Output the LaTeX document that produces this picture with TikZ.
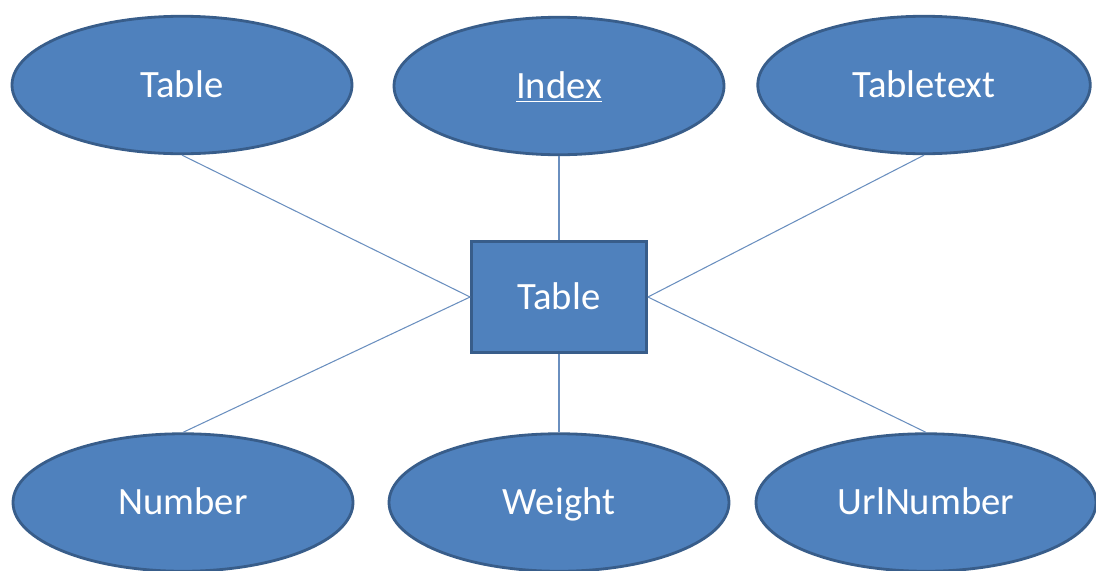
\documentclass[tikz,border=0pt]{standalone}
\usepackage{fontspec}
\setmainfont{Carlito}
\usepackage{xcolor}
\usetikzlibrary{shapes.geometric}
\definecolor{erfill}{HTML}{4F81BD}
\definecolor{erdraw}{HTML}{385D8A}
\definecolor{erline}{HTML}{6A8FBF}

\begin{document}
\begin{tikzpicture}[%
% common options for the attributes:
attr/.style = {ellipse, draw=erdraw, line width=1.6pt, fill=erfill, text=white,
            minimum width=6.8cm, minimum height=2.75cm, inner sep=0,
            text height=14pt, text depth=0pt,
            font=\fontsize{22}{26}\selectfont},
% common options for the entity:
entity/.style = {rectangle, draw=erdraw, line width=1.6pt, fill=erfill, text=white,
            minimum width=3.5cm, minimum height=2.22cm, inner sep=0,
            text height=14pt, text depth=0pt,
            font=\fontsize{22}{26}\selectfont},
% common options for the links:
link/.style = {draw=erline, line width=0.6pt}]
\useasboundingbox (0,0) rectangle (21.92,-11.4);

% entity
\node[entity] (E) at (11.18,-5.94) {Table};

% top row
\node[attr] (T1) at (3.64,-1.70) {Table};
\node[attr, minimum width=6.6cm] (T2) at (11.18,-1.72) {\underline{Index}};
\node[attr, minimum width=6.65cm] (T3) at (18.48,-1.70) {Tabletext};

% bottom row
\node[attr] (B1) at (3.66,-10.05) {Number};
\node[attr] (B2) at (11.18,-10.05) {Weight};
\node[attr] (B3) at (18.52,-10.05) {UrlNumber};

\draw[link] (T1.south) -- (E.west);
\draw[link] (T2.south) -- (E.north);
\draw[link] (T3.south) -- (E.east);
\draw[link] (B1.north) -- (E.west);
\draw[link] (B2.north) -- (E.south);
\draw[link] (B3.north) -- (E.east);
\end{tikzpicture}
\end{document}
